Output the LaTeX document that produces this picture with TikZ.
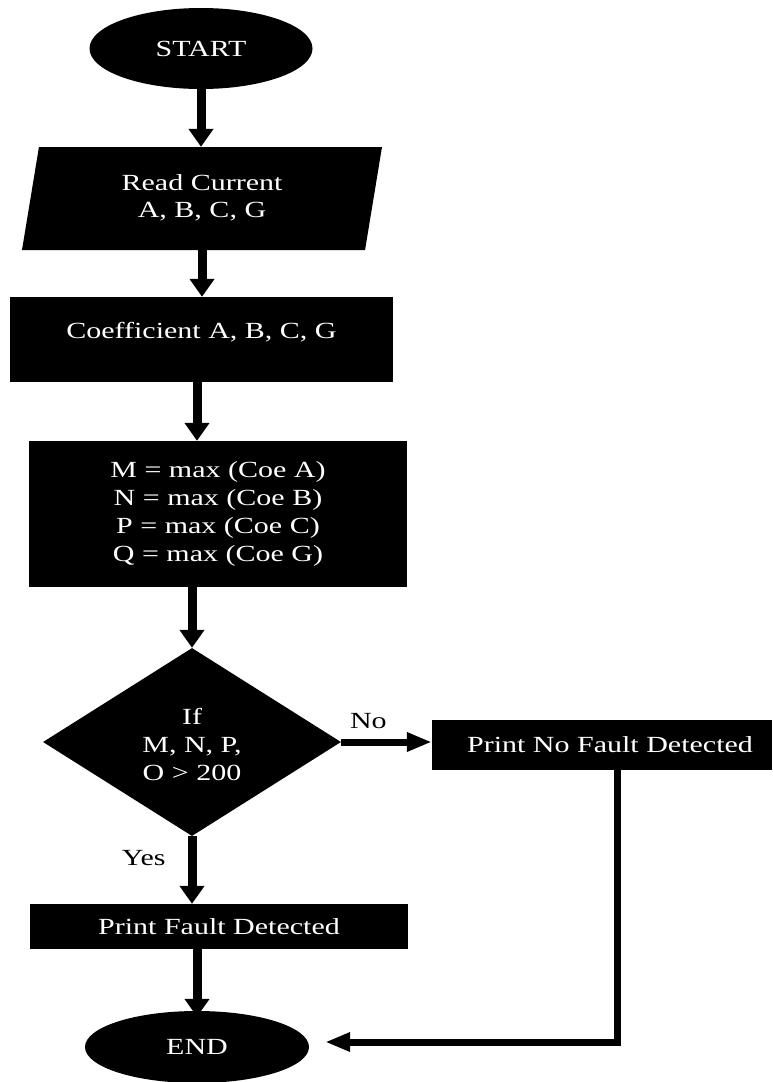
\documentclass[tikz,border=0pt]{standalone}
\usepackage{fontspec}
\setmainfont{Liberation Serif}
\usepackage{graphicx}
\usetikzlibrary{shapes.geometric,arrows.meta}
\newcommand\sqz[1]{\scalebox{1}[0.77]{#1}}
\newcommand\lines[1]{\sqz{\begin{tabular}{@{}c@{}}#1\end{tabular}}}
\begin{document}
\begin{tikzpicture}[x=1pt,y=-1pt,
  every node/.style={font=\fontsize{30}{36}\selectfont},
  blk/.style={fill=black,text=white,inner sep=0pt},
  procbox/.style={blk,rectangle},
  varr/.style={line width=9pt,-{Triangle[length=18pt,width=24pt]}},
  harr/.style={line width=7pt,-{Triangle[length=25pt,width=18pt]}},
  rarr/.style={line width=7pt,line join=miter,-{Triangle[length=25pt,width=18pt]}},
  lbl/.style={text=black,inner sep=0pt}
]
\useasboundingbox (0,0) rectangle (772,1082);

\node[blk,ellipse,minimum width=223pt,minimum height=81pt] (start) at (201,48.5) {\sqz{START}};
\node[blk,trapezium,trapezium left angle=73,trapezium right angle=107,
      trapezium stretches body,minimum width=360pt,minimum height=103pt]
      (read) at (202,198.5) {\lines{Read Current\\A, B, C, G}};
\node[procbox,minimum width=383pt,minimum height=85pt] (coef) at (201.5,339.5)
      {\raisebox{7.5pt}[\height][\depth]{\sqz{Coefficient A, B, C, G}}};
\node[procbox,minimum width=378pt,minimum height=146pt] (mbox) at (218,514)
      {\lines{M = max (Coe A)\\N = max (Coe B)\\P = max (Coe C)\\Q = max (Coe G)}};
\node[blk,diamond,aspect=1.6,minimum width=298pt,minimum height=188pt] (dec) at (192,742)
      {\raisebox{-5pt}[\height][\depth]{\lines{If\\M, N, P,\\O > 200}}};
\node[procbox,minimum width=340pt,minimum height=50pt] (nofault) at (602,745)
      {\hspace*{16pt}\sqz{Print No Fault Detected}};
\node[procbox,minimum width=378pt,minimum height=45pt] (fault) at (219,926.5)
      {\sqz{Print Fault Detected}};
\node[blk,ellipse,minimum width=224pt,minimum height=72pt] (end) at (197,1047) {\sqz{END}};

\coordinate (rc) at (617,1042);

\draw[varr] (start.south) -- (start.south |- read.north);
\draw[varr] (read.south) -- (read.south |- coef.north);
\draw[varr] (coef.south -| end) -- (mbox.north -| end);
\draw[varr] (mbox.south -| dec.north) -- (dec.north);
\draw[harr] (dec.east) -- node[lbl,pos=0.3,above=10pt] {\sqz{No}} (dec.east -| nofault.west);
\draw[varr] (dec.south) -- node[lbl,pos=0.33,left=22pt] {\sqz{Yes}} (dec.south |- fault.north);
\draw[varr] (fault.south -| end) -- ([yshift=-6pt]end.north);
\draw[rarr] (nofault.south -| rc) -- (rc) -- ([xshift=16pt]end.east |- rc);
\end{tikzpicture}
\end{document}
